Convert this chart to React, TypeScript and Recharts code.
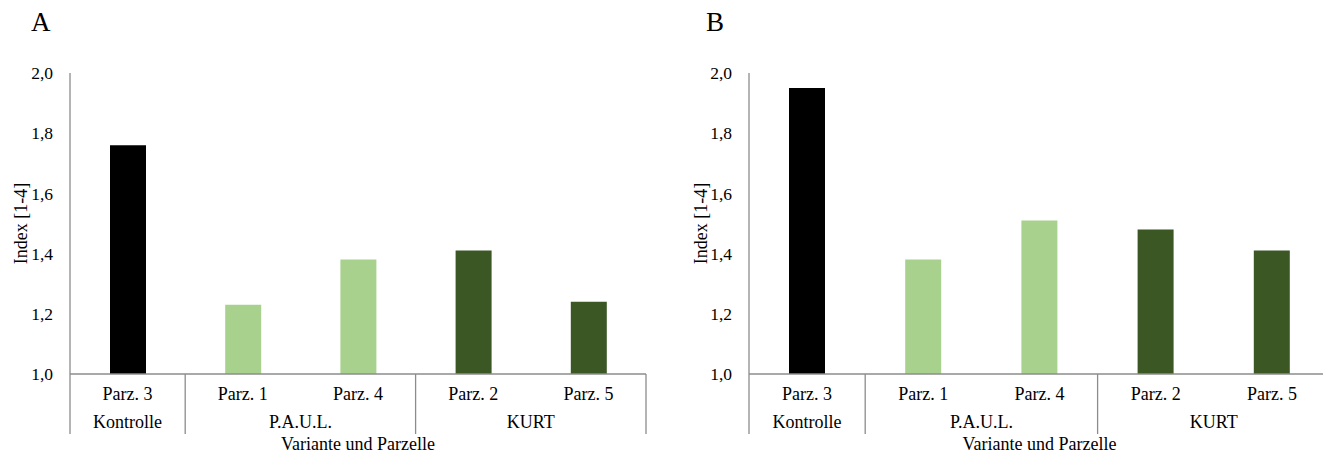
import { BarChart, Bar, XAxis, YAxis, Cell } from 'recharts';

const categories = ['Parz. 3', 'Parz. 1', 'Parz. 4', 'Parz. 2', 'Parz. 5'];
const groups = ['Kontrolle', 'P.A.U.L.', 'P.A.U.L.', 'KURT', 'KURT'];
const valuesA = [1.76, 1.23, 1.38, 1.41, 1.24];
const valuesB = [1.95, 1.38, 1.51, 1.48, 1.41];
const yTicks = [1.0, 1.2, 1.4, 1.6, 1.8, 2.0];

const GROUP_COLORS: Record<string, string> = {
  Kontrolle: '#000000',
  'P.A.U.L.': '#A9D18E',
  KURT: '#3B5724',
};

const FONT = '"Liberation Serif", "Times New Roman", serif';
const AXIS_GRAY = '#8c8c8c';
const CHART_W = 660;
const CHART_H = 454;
const PLOT_TOP = 73;
const AXIS_H = 80;
const PLOT_BOTTOM = CHART_H - AXIS_H;

// two-row category axis: plot label, variant label, separator lines
function makeTick(band: number) {
  // eslint-disable-next-line @typescript-eslint/no-explicit-any
  return function GroupTick({ x, index }: any) {
    const i = index as number;
    const first = i === 0 || groups[i] !== groups[i - 1];
    let count = 1;
    while (i + count < groups.length && groups[i + count] === groups[i]) count++;
    const last = i === categories.length - 1;
    return (
      <g>
        <text x={x} y={PLOT_BOTTOM + 26} textAnchor="middle" fontFamily={FONT} fontSize={18} fill="#000">
          {categories[i]}
        </text>
        {first && (
          <>
            <text x={x + ((count - 1) * band) / 2} y={PLOT_BOTTOM + 54} textAnchor="middle" fontFamily={FONT} fontSize={18} fill="#000">
              {groups[i]}
            </text>
            <line x1={x - band / 2} x2={x - band / 2} y1={PLOT_BOTTOM} y2={PLOT_BOTTOM + 60} stroke={AXIS_GRAY} strokeWidth={1.3} />
          </>
        )}
        {last && (
          <line x1={x + band / 2} x2={x + band / 2} y1={PLOT_BOTTOM} y2={PLOT_BOTTOM + 60} stroke={AXIS_GRAY} strokeWidth={1.3} />
        )}
      </g>
    );
  };
}

// eslint-disable-next-line @typescript-eslint/no-explicit-any
function YTitle({ viewBox }: any) {
  const cx = viewBox.x + 21;
  const cy = PLOT_TOP + (PLOT_BOTTOM - PLOT_TOP) / 2;
  return (
    <text x={cx} y={cy} transform={`rotate(-90 ${cx} ${cy})`} textAnchor="middle" dominantBaseline="central" fontFamily={FONT} fontSize={18} fill="#000">
      Index [1-4]
    </text>
  );
}

// eslint-disable-next-line @typescript-eslint/no-explicit-any
function XTitle({ viewBox }: any) {
  return (
    <text x={viewBox.x + viewBox.width / 2} y={CHART_H - 4} textAnchor="middle" fontFamily={FONT} fontSize={18} fill="#000">
      Variante und Parzelle
    </text>
  );
}

function Panel({ values, yAxisW, rightM }: { values: number[]; yAxisW: number; rightM: number }) {
  const data = categories.map((c, i) => ({ name: c, group: groups[i], value: values[i] }));
  const band = (CHART_W - yAxisW - rightM) / categories.length;
  return (
    <BarChart width={CHART_W} height={CHART_H} data={data} margin={{ top: PLOT_TOP, right: rightM, bottom: 0, left: 0 }} barCategoryGap={0}>
      <YAxis
        width={yAxisW}
        domain={[1, 2]}
        ticks={yTicks}
        tickFormatter={(v: number) => v.toFixed(1).replace('.', ',')}
        tickLine={false}
        tickMargin={11}
        axisLine={{ stroke: AXIS_GRAY, strokeWidth: 1.3 }}
        tick={{ fontFamily: FONT, fontSize: 17.5, fill: '#000' }}
        allowDataOverflow
        label={<YTitle />}
      />
      <XAxis
        dataKey="name"
        height={AXIS_H}
        interval={0}
        tickLine={false}
        axisLine={{ stroke: AXIS_GRAY, strokeWidth: 1.3 }}
        tick={makeTick(band)}
        label={<XTitle />}
      />
      <Bar dataKey="value" barSize={36} isAnimationActive={false} baseValue={1}>
        {data.map((d) => (
          <Cell key={d.name} fill={GROUP_COLORS[d.group]} />
        ))}
      </Bar>
    </BarChart>
  );
}

export default function App() {
  return (
    <div style={{ position: 'fixed', left: 0, top: 0, width: 1323, height: 454, overflow: 'hidden', background: '#fff', fontFamily: FONT }}>
      <div style={{ position: 'absolute', left: 31, top: 9, fontSize: 27, lineHeight: '27px', color: '#000' }}>A</div>
      <div style={{ position: 'absolute', left: 706, top: 9, fontSize: 27, lineHeight: '27px', color: '#000' }}>B</div>
      <div style={{ position: 'absolute', left: 0, top: 0 }}>
        <Panel values={valuesA} yAxisW={70} rightM={14} />
      </div>
      <div style={{ position: 'absolute', left: 680, top: 0 }}>
        <Panel values={valuesB} yAxisW={69} rightM={10} />
      </div>
    </div>
  );
}
